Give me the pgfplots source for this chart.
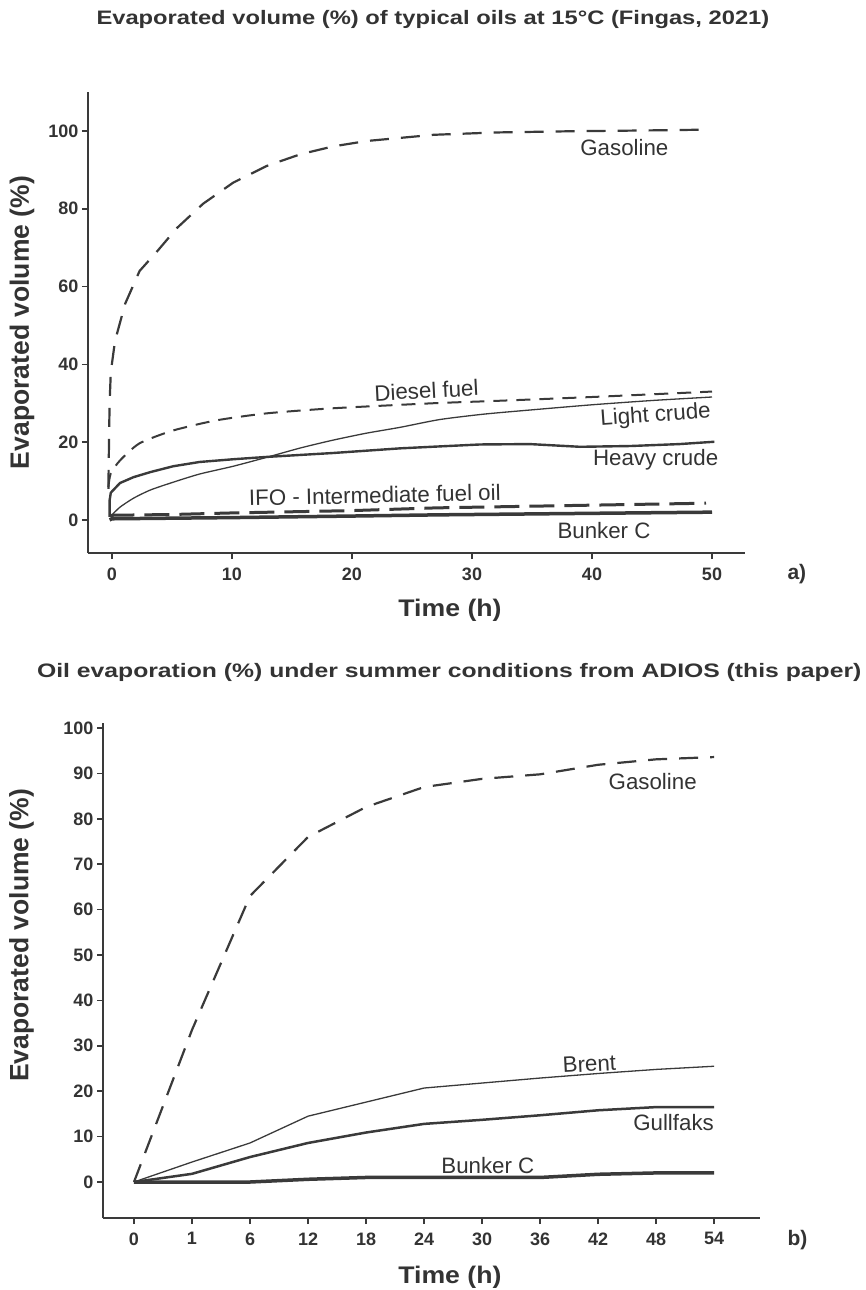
\documentclass[border=0pt]{standalone}
\usepackage{fontspec}
\setmainfont{Liberation Sans}
\usepackage{pgfplots}
\pgfplotsset{compat=1.18}

\definecolor{ink}{HTML}{3A3A3A}
\definecolor{txt}{HTML}{333333}

\pgfplotsset{
  evap/.style={
    scale only axis, width=657pt,
    axis x line=bottom, axis y line=left,
    axis line style={-, line width=2.4pt, ink},
    every outer x axis line/.append style={-},
    every outer y axis line/.append style={-},
    tick align=outside, major tick length=6pt,
    tick style={line width=1.6pt, ink},
    /pgf/number format/assume math mode=true,
    tick label style={font=\fontsize{18}{18}\selectfont\bfseries, text=txt},
    xticklabel style={yshift=-5pt},
    title style={font=\bfseries, text=txt, anchor=center},
    every axis y label/.style={rotate=90, anchor=center,
      font=\fontsize{26.5}{28}\selectfont\bfseries, text=txt},
    every axis x label/.style={anchor=center, xscale=1.11,
      font=\fontsize{24}{26}\selectfont\bfseries, text=txt},
    xlabel={Time (h)}, ylabel={Evaporated volume (\%)},
    clip=false,
  },
}
\tikzset{
  lbl/.style={font=\fontsize{22.3}{24}\selectfont, text=txt},
  tag/.style={font=\fontsize{21}{22}\selectfont\bfseries, text=txt},
}

\begin{document}
\begin{tikzpicture}
\useasboundingbox (0pt,0pt) rectangle (865pt,-1290pt);

% a) Fingas 2021
\begin{axis}[evap, height=461pt, at={(88pt,-553pt)}, anchor=south west,
    xmin=-2, xmax=52.75, ymin=-8.5, ymax=110,
    xtick={0,10,...,50}, ytick={0,20,...,100},
    title={\fontsize{19.5}{21}\selectfont Evaporated volume (\%) of typical oils at 15°C (Fingas, 2021)},
    title style={xscale=1.217, at={(axis description cs:0.525,1.145)}},
    xlabel style={at={(axis description cs:0.551,-0.1236)}},
    ylabel style={at={(axis description cs:-0.1005,0.5)}},
  ]
  % gasoline
  \addplot[ink, line width=2.2pt, dash pattern=on 19pt off 12pt] coordinates {
    (-0.3,8) (-0.25,20) (-0.2,30) (-0.1,38) (0.25,46) (1.1,55.6) (2.3,64)
    (3.75,69) (5.4,75) (7.6,81.3) (10.1,86.7) (12.9,91) (15.7,94) (18.4,96)
    (21.2,97.4) (26.8,99) (32,99.6) (38,99.9) (44,100.1) (49,100.3)};
  % diesel fuel
  \addplot[ink, line width=2pt, dash pattern=on 14pt off 9pt, smooth, tension=0.4] coordinates {
    (-0.3,8.5) (-0.1,12) (0.7,15.4) (2.3,19.7) (5.1,23) (8.7,25.6) (12.9,27.4)
    (18.4,28.7) (26.8,30) (32,30.6) (40,31.6) (50,33)};
  % light crude
  \addplot[ink, line width=1.3pt, smooth, tension=0.4] coordinates {
    (0,1.3) (0.67,3.3) (1.8,5.6) (3.2,7.7) (5.1,9.7) (7.3,11.8) (10.1,13.8)
    (12.9,16.1) (15.7,18.5) (18.4,20.5) (21.2,22.3) (24,23.8) (27.3,25.8)
    (31,27.2) (35,28.3) (40,29.6) (45,30.7) (50,31.6)};
  % heavy crude
  \addplot[ink, line width=2.4pt] coordinates {
    (-0.2,0.8) (-0.2,5) (-0.1,7) (0.67,9.5) (1.8,11) (3.2,12.3) (5.1,13.8)
    (7.3,14.9) (10.1,15.6) (12.9,16.2) (18.4,17.2) (24,18.4) (27.3,18.9)
    (30.7,19.4) (34.8,19.5) (39,18.8) (43.2,19) (47.3,19.5) (50.2,20.1)};
  % IFO
  \addplot[ink, line width=3pt, dash pattern=on 25pt off 10pt] coordinates {
    (-0.2,1) (0,1.2) (5,1.4) (10,1.8) (20,2.4) (27,3.1) (40,3.8) (49.5,4.3)};
  % Bunker C
  \addplot[ink, line width=3.5pt] coordinates {
    (-0.2,0) (0,0.3) (10,0.6) (20,1) (27,1.3) (40,1.7) (50,2)};

  \node[lbl] at (axis cs:42.7,95.6) {Gasoline};
  \node[lbl, rotate=3] at (axis cs:26.2,33.3) {Diesel fuel};
  \node[lbl, rotate=4] at (axis cs:45.3,26.7) {Light crude};
  \node[lbl] at (axis cs:45.3,15.4) {Heavy crude};
  \node[lbl, rotate=1.3] at (axis cs:21.9,6.4) {IFO - Intermediate fuel oil};
  \node[lbl] at (axis cs:41,-2.6) {Bunker C};
  \node[tag] at (axis description cs:1.079,-0.0456) {a)};
\end{axis}

% b) ADIOS
\begin{axis}[evap, height=495pt, at={(103pt,-1218pt)}, anchor=south west,
    xmin=-0.534, xmax=10.79, ymin=-7.93, ymax=101.1,
    xtick={0,...,10}, xticklabels={0,1,6,12,18,24,30,36,42,48,54},
    ytick={0,10,...,100},
    title={\fontsize{19.5}{21}\selectfont Oil evaporation (\%) under summer conditions from ADIOS (this paper)},
    title style={xscale=1.268, at={(axis description cs:0.527,1.091)}},
    xlabel style={at={(axis description cs:0.528,-0.119)}},
    ylabel style={at={(axis description cs:-0.124,0.571)}},
  ]
  % gasoline
  \addplot[ink, line width=2.2pt, dash pattern=on 19pt off 12pt] coordinates {
    (0,0) (1,33.5) (2,63) (3,76) (4,82.6) (5,87) (6,88.8) (7,89.8) (8,91.9)
    (9,93.1) (10,93.6)};
  % Brent
  \addplot[ink, line width=1.3pt] coordinates {
    (0,0) (1,4.4) (2,8.6) (3,14.5) (4,17.6) (5,20.7) (6,21.8) (7,22.9)
    (8,23.9) (9,24.8) (10,25.5)};
  % Gullfaks
  \addplot[ink, line width=2.5pt] coordinates {
    (0,0) (1,1.8) (2,5.5) (3,8.6) (4,10.9) (5,12.8) (6,13.7) (7,14.7)
    (8,15.8) (9,16.5) (10,16.5)};
  % Bunker C
  \addplot[ink, line width=3.5pt] coordinates {
    (0,0) (1,0) (2,0) (3,0.6) (4,1) (5,1) (6,1) (7,1) (8,1.7) (9,2) (10,2)};

  \node[lbl] at (axis cs:8.94,88.3) {Gasoline};
  \node[lbl, rotate=3] at (axis cs:7.85,26) {Brent};
  \node[lbl] at (axis cs:9.3,13.2) {Gullfaks};
  \node[lbl] at (axis cs:6.1,3.7) {Bunker C};
  \node[tag] at (axis description cs:1.057,-0.0444) {b)};
\end{axis}
\end{tikzpicture}
\end{document}
